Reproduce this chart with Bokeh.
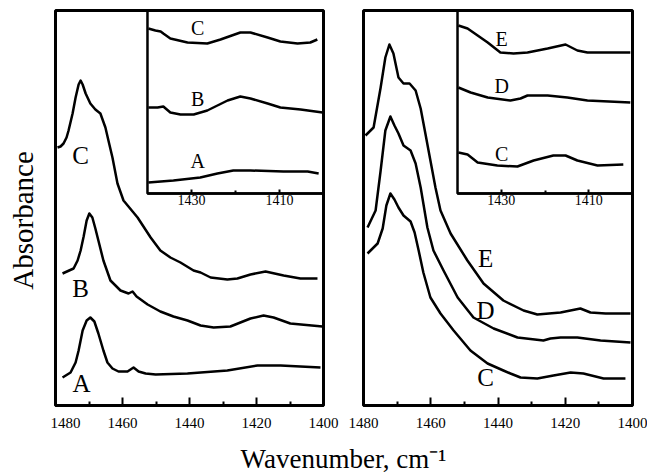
import math
from bokeh.plotting import figure
from bokeh.layouts import row, column
from bokeh.models import (Range1d, LinearAxis, FixedTicker, BoxAnnotation, Label)
from bokeh.core.properties import value
from bokeh.embed import file_html
from bokeh.resources import INLINE

FONT = "Liberation Serif"

# ---------------- data (wavenumber, cm-1 ; absorbance, arbitrary offset units) -------------
# Left panel, main traces
left_C_wn = [1479.4, 1478.5, 1477.6, 1476.7, 1476.1, 1474.9, 1474.0, 1473.1, 1472.5, 1471.9,
             1471.0, 1469.6, 1468.1, 1466.6, 1465.1, 1464.2, 1463.0, 1461.5, 1459.7, 1455.5,
             1451.6, 1448.7, 1445.7, 1442.7, 1438.8, 1436.7, 1433.7, 1428.7, 1425.7, 1421.8,
             1417.3, 1411.9, 1406.9, 1401.8]
left_C_abs = [2.58, 2.59, 2.62, 2.68, 2.75, 2.92, 3.08, 3.21, 3.25, 3.21,
              3.12, 3.02, 2.96, 2.92, 2.78, 2.65, 2.48, 2.22, 2.05, 1.88,
              1.68, 1.55, 1.48, 1.43, 1.35, 1.33, 1.28, 1.26, 1.27, 1.31,
              1.34, 1.30, 1.27, 1.27]

left_B_wn = [1477.9, 1474.6, 1473.4, 1472.5, 1471.6, 1470.7, 1469.9, 1469.0, 1468.1, 1467.2,
             1465.7, 1463.6, 1460.6, 1458.2, 1457.0, 1455.8, 1452.5, 1448.7, 1444.8, 1440.6,
             1436.7, 1432.8, 1427.8, 1421.8, 1417.9, 1414.9, 1409.9, 1400.3]
left_B_abs = [1.32, 1.37, 1.45, 1.55, 1.69, 1.85, 1.92, 1.88, 1.77, 1.65,
              1.45, 1.25, 1.15, 1.12, 1.14, 1.09, 1.01, 0.94, 0.89, 0.85,
              0.80, 0.78, 0.79, 0.87, 0.90, 0.88, 0.82, 0.79]

left_A_wn = [1477.9, 1475.5, 1474.0, 1473.1, 1471.9, 1470.7, 1469.6, 1468.4, 1467.2, 1465.7,
             1464.5, 1463.0, 1461.2, 1458.5, 1456.7, 1455.2, 1453.1, 1450.1, 1440.6, 1428.7,
             1419.7, 1412.8, 1406.9, 1400.9]
left_A_abs = [0.28, 0.33, 0.43, 0.55, 0.75, 0.85, 0.88, 0.84, 0.72, 0.55,
              0.43, 0.37, 0.34, 0.34, 0.38, 0.34, 0.32, 0.31, 0.32, 0.35,
              0.40, 0.40, 0.39, 0.38]

# Left panel, inset traces (1440-1400 cm-1, expanded)
linset_C_wn = [1439.8, 1438.2, 1437.0, 1436.4, 1434.8, 1430.9, 1426.4, 1423.4, 1418.9, 1416.6,
               1412.7, 1409.8, 1405.9, 1403.0, 1401.4]
linset_C_abs = [1.65, 1.63, 1.62, 1.60, 1.55, 1.51, 1.50, 1.54, 1.61, 1.61,
                1.56, 1.52, 1.50, 1.51, 1.54]
linset_B_wn = [1439.8, 1437.7, 1436.4, 1434.8, 1432.5, 1429.5, 1426.4, 1421.8, 1418.9, 1416.6,
               1412.7, 1409.8, 1405.2, 1400.2]
linset_B_abs = [0.86, 0.86, 0.87, 0.81, 0.79, 0.79, 0.83, 0.93, 0.97, 0.95,
                0.90, 0.86, 0.84, 0.81]
linset_A_wn = [1439.8, 1434.1, 1428.0, 1424.1, 1420.5, 1416.6, 1409.1, 1403.6, 1401.1]
linset_A_abs = [0.11, 0.13, 0.16, 0.20, 0.23, 0.23, 0.22, 0.22, 0.20]

# Right panel, main traces
right_E_wn = [1479.4, 1477.0, 1474.9, 1473.5, 1472.3, 1471.1, 1469.6, 1468.1, 1466.3, 1464.5,
              1463.0, 1461.6, 1460.1, 1458.6, 1457.1, 1454.1, 1449.1, 1444.3, 1438.4, 1432.4,
              1428.3, 1421.4, 1415.5, 1412.5, 1408.0, 1400.6]
right_E_abs = [2.70, 2.78, 3.18, 3.48, 3.61, 3.52, 3.28, 3.22, 3.22, 3.15,
               2.97, 2.72, 2.45, 2.18, 1.95, 1.72, 1.45, 1.22, 1.05, 0.95,
               0.91, 0.93, 0.97, 0.93, 0.92, 0.92]

right_D_wn = [1478.8, 1476.4, 1474.9, 1473.5, 1472.0, 1470.8, 1469.6, 1468.1, 1466.0, 1464.5,
              1463.0, 1461.0, 1459.2, 1456.2, 1452.0, 1447.3, 1441.3, 1434.2, 1426.5, 1424.4,
              1421.4, 1416.4, 1409.5, 1400.6]
right_D_abs = [1.78, 1.95, 2.35, 2.75, 2.89, 2.80, 2.72, 2.60, 2.55, 2.42,
               2.18, 1.78, 1.55, 1.35, 1.08, 0.88, 0.77, 0.68, 0.65, 0.67,
               0.68, 0.68, 0.65, 0.63]

right_C_wn = [1478.8, 1475.8, 1474.3, 1473.2, 1472.0, 1470.8, 1469.6, 1468.1, 1466.0, 1464.8,
              1463.6, 1462.2, 1460.1, 1457.1, 1453.2, 1448.2, 1443.1, 1438.4, 1436.3, 1433.3,
              1428.3, 1423.5, 1418.4, 1414.6, 1408.6, 1402.1]
right_C_abs = [1.52, 1.62, 1.77, 2.00, 2.12, 2.06, 1.98, 1.90, 1.84, 1.73,
               1.55, 1.33, 1.08, 0.92, 0.75, 0.55, 0.42, 0.35, 0.32, 0.28,
               0.27, 0.30, 0.33, 0.32, 0.27, 0.27]

# Right panel, inset traces
rinset_E_wn = [1439.8, 1437.7, 1435.4, 1433.1, 1430.2, 1427.2, 1424.0, 1419.4, 1415.3, 1412.6,
               1410.3, 1400.5]
rinset_E_abs = [1.68, 1.65, 1.58, 1.51, 1.41, 1.40, 1.41, 1.45, 1.49, 1.43, 1.41, 1.41]
rinset_D_wn = [1439.8, 1437.0, 1433.1, 1427.9, 1425.6, 1424.0, 1419.4, 1414.9, 1410.3, 1400.5]
rinset_D_abs = [1.06, 1.01, 0.96, 0.93, 0.95, 0.98, 0.98, 0.96, 0.93, 0.91]
rinset_C_wn = [1439.8, 1437.7, 1435.4, 1430.9, 1426.3, 1422.6, 1418.1, 1415.3, 1412.6, 1408.0,
               1402.1]
rinset_C_abs = [0.41, 0.39, 0.31, 0.28, 0.27, 0.33, 0.38, 0.38, 0.33, 0.28, 0.29]

# curve labels
left_labels = ["C", "B", "A"]
left_label_wn = [1472.5, 1472.5, 1472.2]
left_label_abs = [2.50, 1.17, 0.22]
linset_labels = ["C", "B", "A"]
linset_label_wn = [1428.6, 1428.6, 1428.6]
linset_label_abs = [1.66, 0.95, 0.33]
right_labels = ["E", "D", "C"]
right_label_wn = [1443.7, 1443.7, 1443.7]
right_label_abs = [1.47, 0.95, 0.28]
rinset_labels = ["E", "D", "C"]
rinset_label_wn = [1429.9, 1429.9, 1429.9]
rinset_label_abs = [1.55, 1.08, 0.40]

main_ticks = [1480, 1460, 1440, 1420, 1400]
main_minor = [1470, 1450, 1430, 1410]
inset_ticks = [1430, 1410]
inset_minor = [1420]

X_LABEL = "Wavenumber, cm\u207b\u00b9"
Y_LABEL = "Absorbance"

LW = 2.5
ROW_H = 432
FRAME_BOTTOM = 405
Y_RANGE = (0, 3.95)


def make_panel(width, border_left, border_right, inset_start, curves, inset_curves,
               labels, inset_labels):
    p = figure(width=width, height=ROW_H, output_backend="svg", toolbar_location=None,
               x_range=Range1d(1480, 1400), y_range=Range1d(*Y_RANGE),
               min_border_left=border_left, min_border_right=border_right,
               min_border_top=10, min_border_bottom=ROW_H - FRAME_BOTTOM,
               y_axis_location=None)
    p.xgrid.visible = False
    p.ygrid.visible = False
    p.outline_line_color = "black"
    p.outline_line_width = 3
    p.background_fill_color = "white"
    p.border_fill_color = "white"

    ax = p.xaxis[0]
    ax.ticker = FixedTicker(ticks=main_ticks, minor_ticks=main_minor)
    ax.axis_line_width = 3
    ax.major_tick_in = 8
    ax.major_tick_out = 0
    ax.minor_tick_in = 4
    ax.minor_tick_out = 0
    ax.major_tick_line_width = 2
    ax.minor_tick_line_width = 2
    ax.major_label_standoff = 12
    ax.major_label_text_font = FONT
    ax.major_label_text_font_size = "15px"
    ax.major_label_text_color = "black"

    for wn, ab in curves:
        p.line(wn, ab, line_color="black", line_width=LW, line_join="round")

    # inset coordinate system
    p.extra_x_ranges = {"ix": Range1d(inset_start, 1400)}
    p.extra_y_ranges = {"iy": Range1d(-2.12, 1.83)}
    box = BoxAnnotation(left=1440, right=1400, bottom=0, top=1.83,
                        x_range_name="ix", y_range_name="iy",
                        fill_alpha=0, line_color="black", line_alpha=1.0, line_width=2.5)
    p.add_layout(box)
    iax = LinearAxis(x_range_name="ix", y_range_name="iy", fixed_location=0,
                     bounds=(1400, 1440),
                     ticker=FixedTicker(ticks=inset_ticks, minor_ticks=inset_minor))
    iax.axis_line_width = 2.5
    iax.major_tick_in = 4
    iax.major_tick_out = 0
    iax.minor_tick_in = 3
    iax.minor_tick_out = 0
    iax.major_tick_line_width = 2
    iax.minor_tick_line_width = 2
    iax.major_label_standoff = 1
    iax.major_label_text_font = FONT
    iax.major_label_text_font_size = "14px"
    iax.major_label_text_color = "black"
    p.add_layout(iax, "below")

    for wn, ab in inset_curves:
        p.line(wn, ab, line_color="black", line_width=LW, line_join="round",
               x_range_name="ix", y_range_name="iy")

    lt, lx, ly = labels
    p.text(x=lx, y=ly, text=lt, text_font=value(FONT), text_font_size="25px",
           text_align="center", text_baseline="middle", text_color="black")
    it, ixx, iyy = inset_labels
    p.text(x=ixx, y=iyy, text=it, text_font=value(FONT), text_font_size="20px",
           text_align="center", text_baseline="middle", text_color="black",
           x_range_name="ix", y_range_name="iy")
    return p


# narrow strip holding the vertical axis title, sharing the panels' vertical scale
LABEL_W = 50
py_lab = figure(width=LABEL_W, height=ROW_H, output_backend="svg", toolbar_location=None,
                x_range=Range1d(0, LABEL_W), y_range=Range1d(*Y_RANGE),
                x_axis_location=None, y_axis_location=None,
                min_border_left=0, min_border_right=0, min_border_top=10,
                min_border_bottom=ROW_H - FRAME_BOTTOM)
py_lab.outline_line_color = None
py_lab.xgrid.visible = False
py_lab.ygrid.visible = False
py_lab.text(x=[22], y=[1.85], text=[Y_LABEL], angle=math.pi / 2,
            text_font=value(FONT), text_font_size="29px",
            text_align="center", text_baseline="alphabetic", text_color="black")

pl = make_panel(343 - LABEL_W, 55 - LABEL_W, 20, 1460.9,
                [(left_C_wn, left_C_abs), (left_B_wn, left_B_abs), (left_A_wn, left_A_abs)],
                [(linset_C_wn, linset_C_abs), (linset_B_wn, linset_B_abs),
                 (linset_A_wn, linset_A_abs)],
                (left_labels, left_label_wn, left_label_abs),
                (linset_labels, linset_label_wn, linset_label_abs))

pr = make_panel(304, 20, 15, 1461.49,
                [(right_E_wn, right_E_abs), (right_D_wn, right_D_abs),
                 (right_C_wn, right_C_abs)],
                [(rinset_E_wn, rinset_E_abs), (rinset_D_wn, rinset_D_abs),
                 (rinset_C_wn, rinset_C_abs)],
                (right_labels, right_label_wn, right_label_abs),
                (rinset_labels, rinset_label_wn, rinset_label_abs))

pb = figure(width=647, height=472 - ROW_H, output_backend="svg", toolbar_location=None,
            x_axis_location=None, y_axis_location=None, min_border=0, title=None,
            x_range=Range1d(0, 1), y_range=Range1d(0, 1))
pb.outline_line_color = None
pb.xgrid.visible = False
pb.ygrid.visible = False
pb.add_layout(Label(x=343, y=14, x_units="screen", y_units="screen", text=X_LABEL,
                    text_align="center", text_baseline="alphabetic",
                    text_font=FONT, text_font_size="27px", text_color="black"))

layout = column(row(py_lab, pl, pr), pb)
open("out.html", "w").write(file_html(layout, INLINE))
